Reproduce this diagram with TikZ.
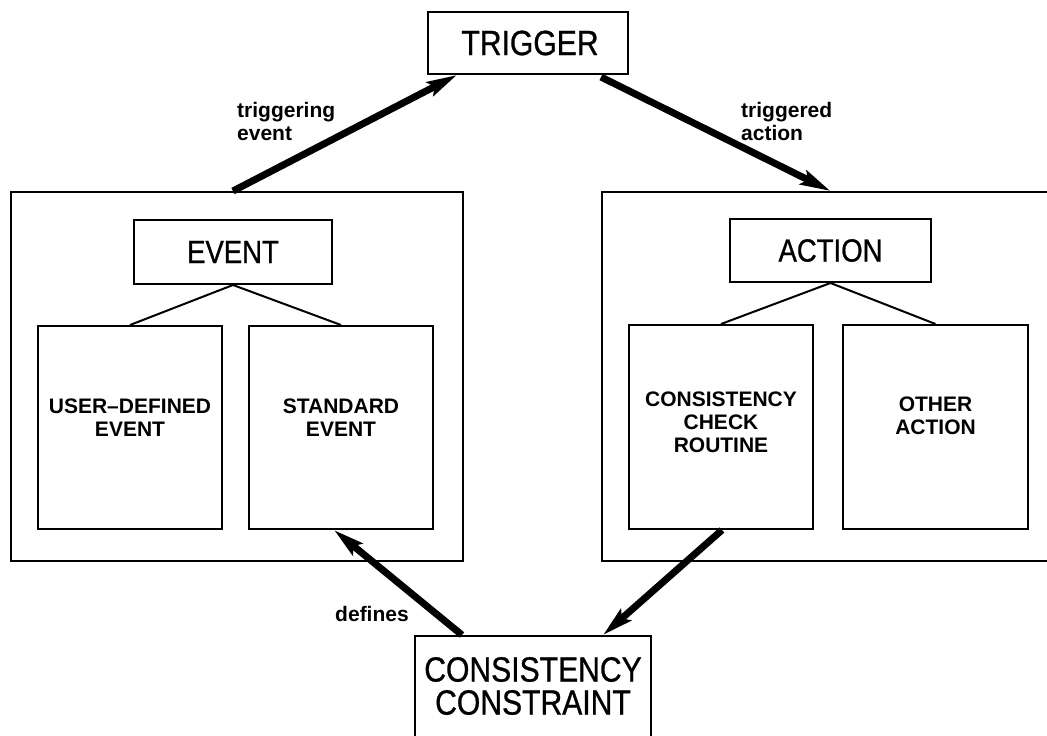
\documentclass[tikz,border=0pt]{standalone}
\usepackage{fontspec}
\setmainfont{Liberation Sans}
\newfontfamily\condfont[FakeStretch=0.86,FakeBold=0.8]{Liberation Sans}
\usetikzlibrary{arrows.meta,calc}
\begin{document}
\begin{tikzpicture}[x=1pt,y=-1pt,
  box/.style={draw,line width=2pt,inner sep=0pt,rectangle},
  bigtxt/.style={font=\condfont\fontsize{35}{33}\selectfont,align=center,inner sep=0pt},
  midtxt/.style={font=\condfont\fontsize{32}{32}\selectfont,align=center,inner sep=0pt},
  subtxt/.style={font=\bfseries\fontsize{21}{23}\selectfont,align=center,inner sep=0pt},
  lbl/.style={font=\bfseries\fontsize{21}{23}\selectfont,align=left,inner sep=0pt,anchor=north west},
  fat/.style={line width=7pt,-{Stealth[length=30pt,width=15pt,inset=5pt]}},
  thin/.style={line width=2pt}]
\useasboundingbox (0,0) rectangle (1047,736);
\clip (0,0) rectangle (1047,736);
% top
\node[box,minimum width=200pt,minimum height=62pt] (trig) at (528,43) {};
\node[bigtxt] (trigtxt) at (530,43) {TRIGGER};
% outer boxes
\node[box,minimum width=452pt,minimum height=369pt] (lout) at (237,376.5) {};
\node[box,minimum width=478pt,minimum height=369pt] (rout) at (841,376.5) {};
% event side
\node[box,minimum width=198pt,minimum height=64pt] (ev) at (233,252) {};
\node[midtxt] (evtxt) at (233,252) {EVENT};
\node[box,minimum width=184pt,minimum height=203pt] (usr) at (130,427.5) {};
\node[subtxt] (usrtxt) at (130,418) {USER--DEFINED\\EVENT};
\node[box,minimum width=184pt,minimum height=203pt] (std) at (341,427.5) {};
\node[subtxt] (stdtxt) at (341,418) {STANDARD\\EVENT};
% action side
\node[box,minimum width=201pt,minimum height=63pt] (act) at (830.5,250.5) {};
\node[midtxt] (acttxt) at (830.5,250.5) {ACTION};
\node[box,minimum width=184pt,minimum height=204pt] (ccr) at (721,427) {};
\node[subtxt] (ccrtxt) at (721,422) {CONSISTENCY\\CHECK\\ROUTINE};
\node[box,minimum width=185pt,minimum height=204pt] (oth) at (935.5,427) {};
\node[subtxt] (othtxt) at (935.5,416) {OTHER\\ACTION};
% bottom
\node[box,minimum width=236pt,minimum height=150pt] (cc) at (533,711) {};
\node[bigtxt] (cctxt) at (533,686) {CONSISTENCY\\CONSTRAINT};
% tree lines
\draw[thin] (ev.south) -- (usr.north);
\draw[thin] (ev.south) -- (std.north);
\draw[thin] (act.south) -- (ccr.north);
\draw[thin] (act.south) -- (oth.north);
% fat arrows
\coordinate (a1s) at (ev.center |- lout.north);
\coordinate (a1e) at ($(trig.south west)+(30,0)$);
\draw[fat] (a1s) -- (a1e);
\coordinate (a2s) at ($(trig.south east)+(-28,2)$);
\coordinate (a2e) at (act.center |- rout.north);
\draw[fat] (a2s) -- (a2e);
\coordinate (a3s) at ($(cc.north west)+(48,0)$);
\coordinate (a3e) at ($(std.south west)+(86,0)$);
\draw[fat] (a3s) -- (a3e);
\coordinate (a4s) at ($(ccr.south west)+(94,0)$);
\coordinate (a4e) at ($(cc.north east)+(-49,0)$);
\draw[fat] (a4s) -- (a4e);
% labels
\node[lbl] (l1) at (237,102) {triggering\\event};
\node[lbl] (l2) at (741,102) {triggered\\action};
\node[lbl,anchor=center] (l3) at (372,614) {defines};
\end{tikzpicture}
\end{document}
